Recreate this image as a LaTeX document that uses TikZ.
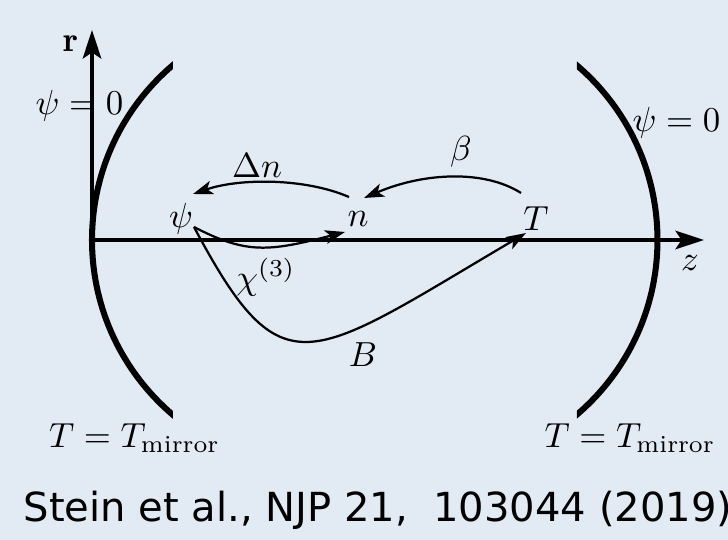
\documentclass[tikz,border=0pt]{standalone}
\usepackage{fontspec}
\newfontfamily\captionfont{DejaVu Sans}
\usetikzlibrary{arrows.meta}
\definecolor{panelblue}{RGB}{226,234,244}
\tikzset{
  mirror/.style={line width=1.75pt},
  axis/.style={line width=0.95pt, -{Stealth[length=8.3pt, width=5.4pt, inset=1.8pt]}},
  flow/.style={line width=0.65pt, -{Stealth[length=5.8pt, width=4pt, inset=1.5pt]}},
  every node/.style={inner sep=0pt, scale=1.01}
}
\begin{document}
\begin{tikzpicture}[x=0.29pt, y=-0.29pt]
  \fill[panelblue] (0,0) rectangle (728,540);
  \useasboundingbox (0,0) rectangle (728,540);

  % mirrors, cut off square at the ends
  \begin{scope}
    \clip (0,40) rectangle (173,440);
    \draw[mirror] (321.5,240) circle[radius=229.5];
  \end{scope}
  \begin{scope}
    \clip (577,40) rectangle (728,440);
    \draw[mirror] (428,240) circle[radius=229.5];
  \end{scope}

  % axes
  \coordinate (origin) at (92,240);
  \coordinate (rtip) at (92,30);
  \coordinate (ztip) at (704,240);
  \draw[axis] (origin) -- (rtip);
  \draw[axis] (origin) -- (ztip);

  \node (rlabel) at (71,44) {$\mathbf{r}$};
  \node (zlabel) at (690,263) {$z$};
  \node (psileft) at (79.5,105.5) {$\psi=0$};
  \node (psiright) at (676.5,122.5) {$\psi=0$};
  \node (tleft) at (134.5,438) {$T=T_{\mathrm{mirror}}$};
  \node (tright) at (630,438) {$T=T_{\mathrm{mirror}}$};

  % fields
  \node (psi) at (181,219) {$\psi$};
  \node (n) at (358,219) {$n$};
  \node (T) at (536,219) {$T$};

  \draw[flow] ([shift={(-9,-22)}]n.center) .. controls +(-44,-19) and +(47,-16) .. ([shift={(12,-25)}]psi.center);
  \draw[flow] ([shift={(-15,-26)}]T.center) .. controls +(-36,-23) and +(61,-26) .. ([shift={(6,-21)}]n.center);
  \draw[flow] ([shift={(13,8)}]psi.center) .. controls +(52,27) and +(-77,20) .. ([shift={(-13,13)}]n.center);
  \draw[flow] ([shift={(13,8)}]psi.center) .. controls +(89,167) and +(-219,129) .. ([shift={(-10,14)}]T.center);

  \node (dn) at (257,166) {$\Delta n$};
  \node (beta) at (461,152) {$\beta$};
  \node (chi) at (266,277) {$\chi^{(3)}$};
  \node (B) at (363,355) {$B$};

  \node[font=\captionfont\fontsize{11.5pt}{13pt}\selectfont] (cite) at (378,510) {Stein et al., NJP 21,\ \ 103044 (2019)};
\end{tikzpicture}
\end{document}
